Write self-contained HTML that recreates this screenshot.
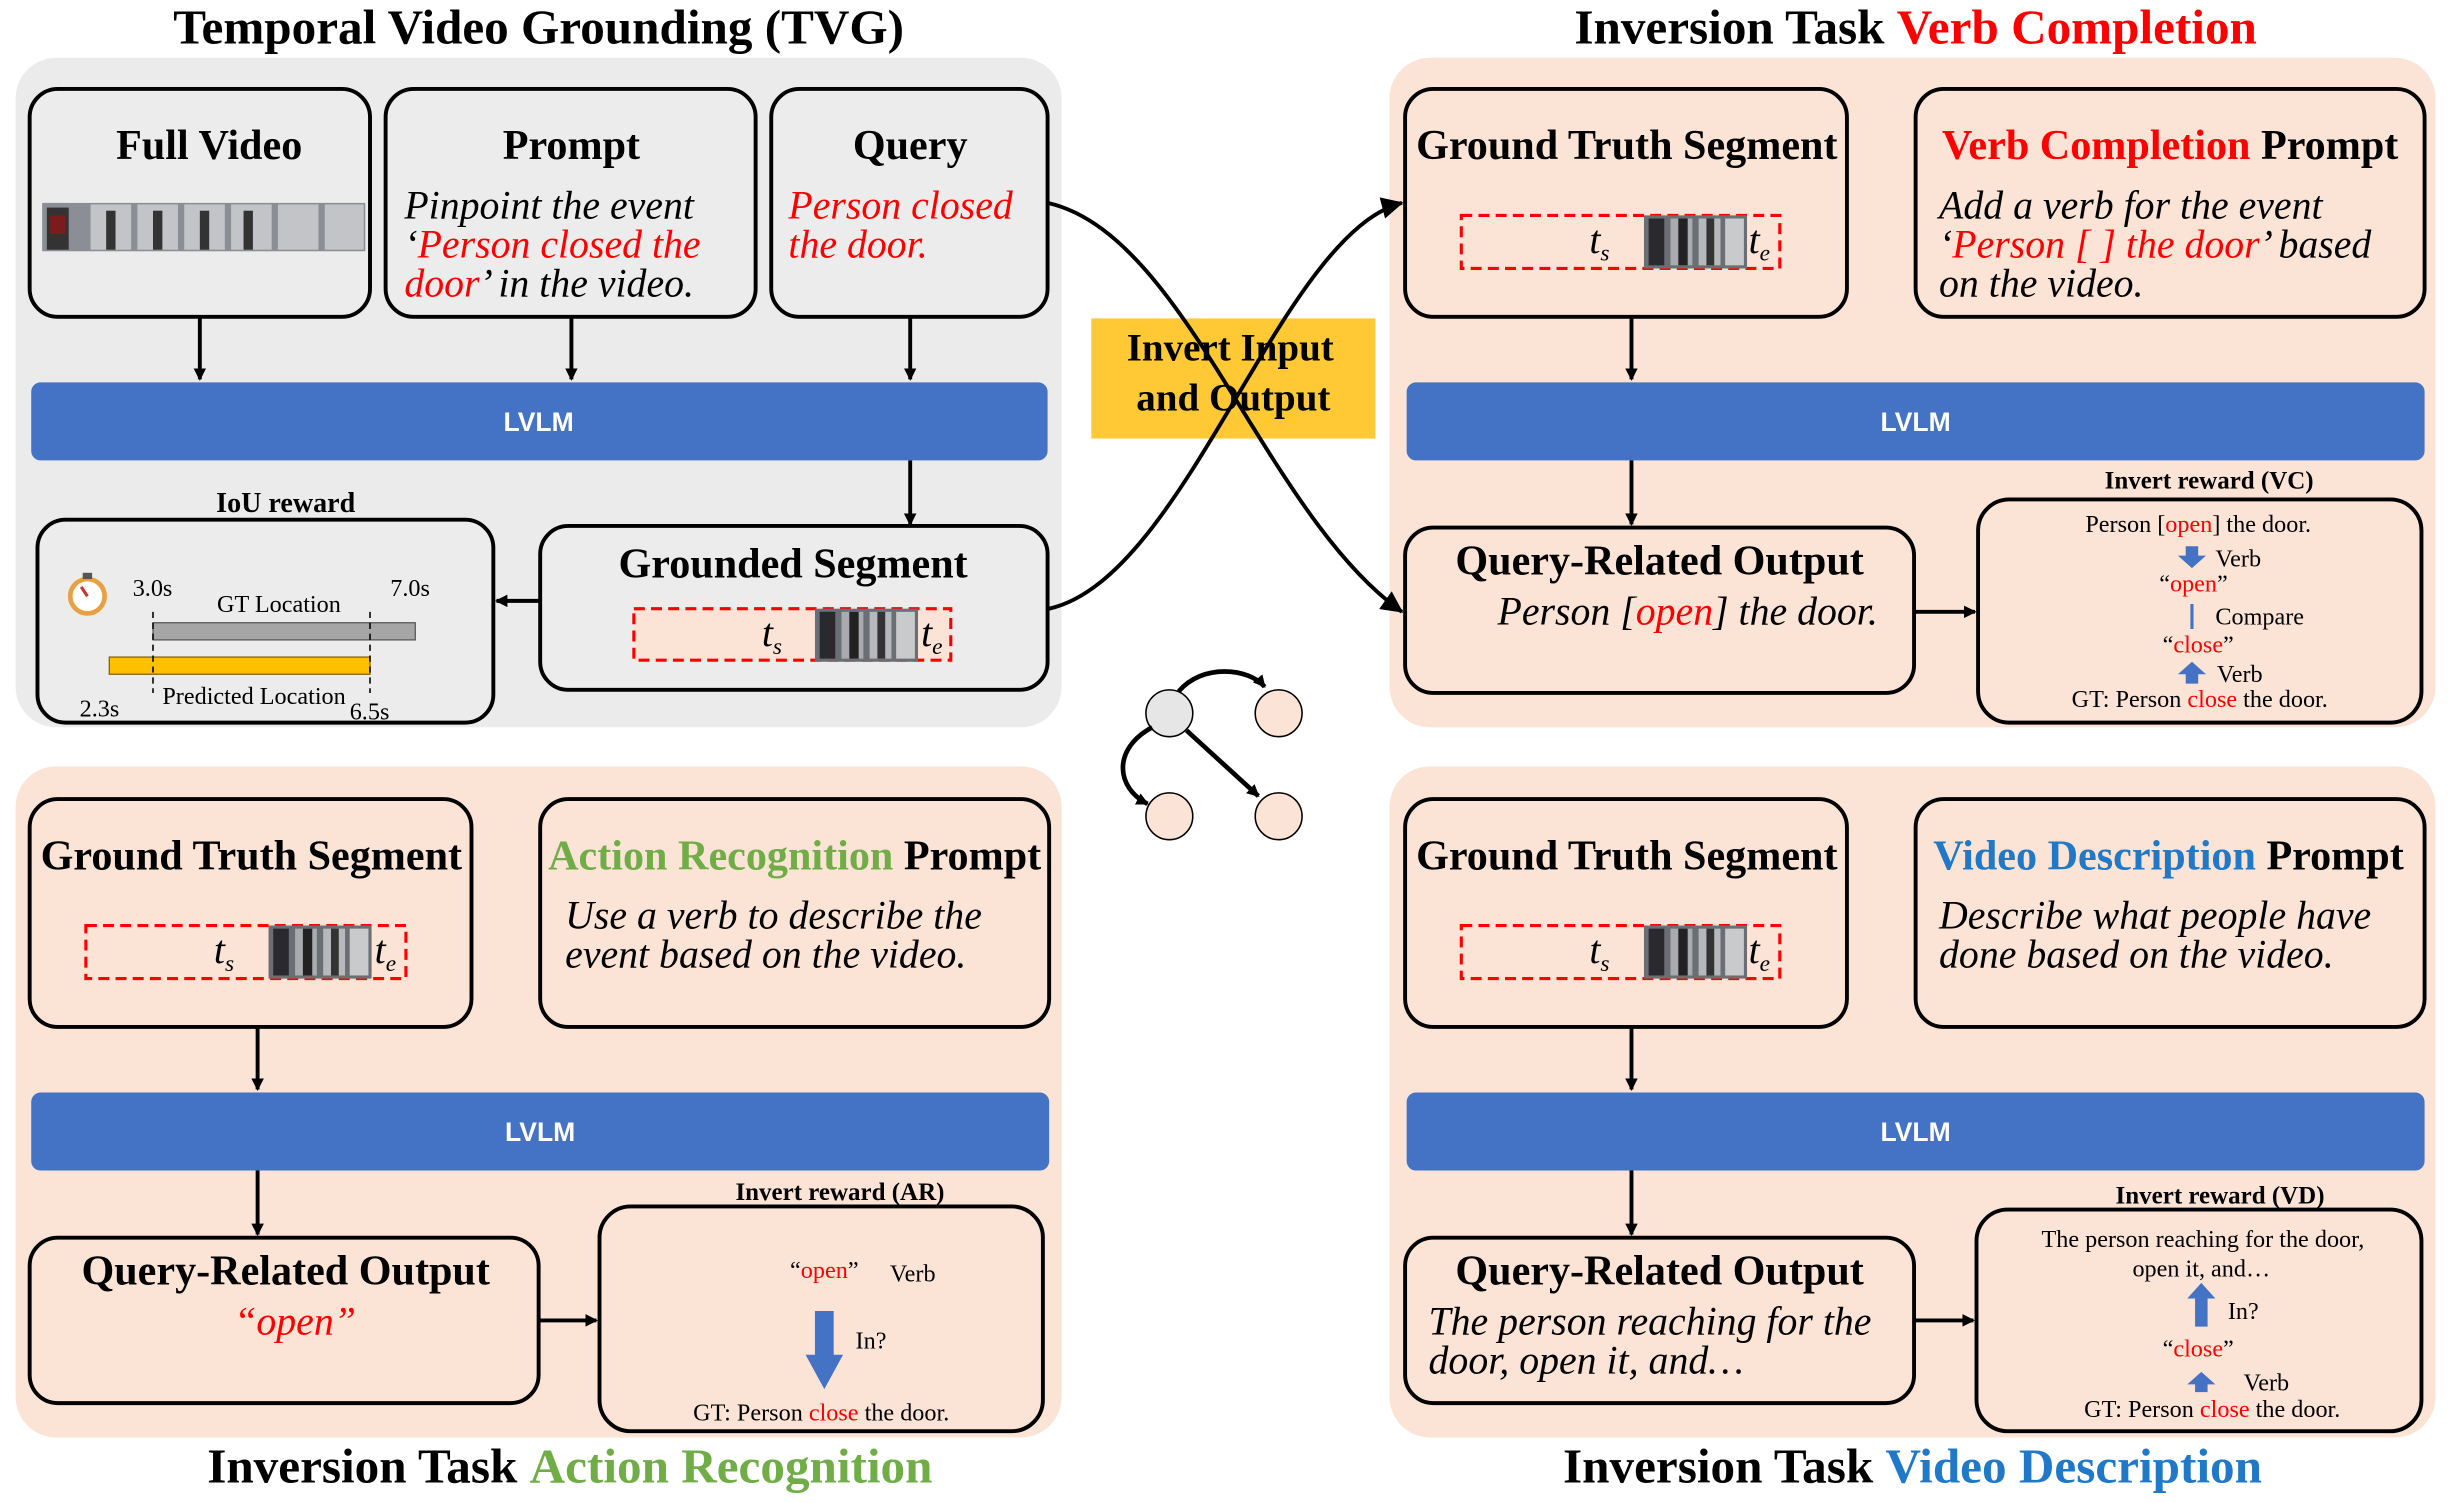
<!DOCTYPE html>
<html><head><meta charset="utf-8"><style>
html,body{margin:0;padding:0;background:#fff;}
svg{display:block;}
text{font-family:"Liberation Serif",serif;}
.t{font-size:31.5px;font-weight:bold;}
.h{font-size:27px;font-weight:bold;}
.i{font-size:25.5px;font-style:italic;}
.s{font-size:15.5px;}
.l{font-family:"Liberation Sans",sans-serif;font-size:17px;font-weight:bold;fill:#fff;}
.box{stroke:#000;stroke-width:2.5;}
.r{fill:#ff0000;}
</style></head><body>
<svg width="2448" height="1503" viewBox="0 0 1568 963" preserveAspectRatio="none" xmlns="http://www.w3.org/2000/svg">
<defs>
<marker id="a" markerWidth="8" markerHeight="8" refX="7" refY="4" orient="auto" markerUnits="userSpaceOnUse"><path d="M0,0 L8,4 L0,8 z" fill="#000"/></marker>
<marker id="A" markerWidth="14" markerHeight="14" refX="13" refY="7" orient="auto" markerUnits="userSpaceOnUse"><path d="M0,0 L14,7 L0,14 z" fill="#000"/></marker>
<g id="film"><rect x="0" y="0" width="66" height="34" fill="#6b6f75"/><rect x="3" y="2" width="10" height="30" fill="#2a2a2e"/><rect x="17" y="2" width="14" height="30" fill="#a9abae"/><rect x="22" y="2" width="6" height="30" fill="#222"/><rect x="35" y="2" width="14" height="30" fill="#b6b8bb"/><rect x="40" y="2" width="5" height="30" fill="#333"/><rect x="52" y="2" width="12" height="30" fill="#c8cacc"/></g>
</defs>

<rect x="10" y="37" width="670" height="429" rx="26" fill="#ebebeb"/>
<rect x="890" y="37" width="670" height="429" rx="26" fill="#fbe3d6"/>
<rect x="10" y="491" width="670" height="430" rx="26" fill="#fbe3d6"/>
<rect x="890" y="491" width="670" height="430" rx="26" fill="#fbe3d6"/>

<text class="t" x="345" y="28" text-anchor="middle">Temporal Video Grounding (TVG)</text>
<text class="t" x="1227" y="28" text-anchor="middle">Inversion Task <tspan class="r">Verb Completion</tspan></text>
<text class="t" x="365" y="950" text-anchor="middle">Inversion Task <tspan fill="#70ad47">Action Recognition</tspan></text>
<text class="t" x="1225" y="950" text-anchor="middle">Inversion Task <tspan fill="#1f78c8">Video Description</tspan></text>

<rect class="box" x="19" y="57" width="218" height="146" rx="18" fill="#ececec"/>
<text class="h" x="134" y="102" text-anchor="middle">Full Video</text>
<rect x="27" y="130" width="207" height="31" fill="#8b8f95"/>
<g fill="#c2c4c7"><rect x="58" y="131" width="26" height="29"/><rect x="88" y="131" width="26" height="29"/><rect x="118" y="131" width="26" height="29"/><rect x="148" y="131" width="26" height="29"/><rect x="178" y="131" width="26" height="29"/><rect x="208" y="131" width="25" height="29"/></g>
<g fill="#333"><rect x="30" y="133" width="14" height="27"/><rect x="68" y="135" width="6" height="25"/><rect x="98" y="135" width="6" height="25"/><rect x="128" y="135" width="6" height="25"/><rect x="156" y="135" width="6" height="25"/></g>
<rect x="32" y="138" width="10" height="12" fill="#7a1c1c"/>

<rect class="box" x="247" y="57" width="237" height="146" rx="18" fill="#ececec"/>
<text class="h" x="366" y="102" text-anchor="middle">Prompt</text>
<text class="i" x="259" y="140">Pinpoint the event</text>
<text class="i" x="259" y="165">‘<tspan class="r">Person closed the</tspan></text>
<text class="i" x="259" y="190"><tspan class="r">door</tspan>’ in the video.</text>

<rect class="box" x="494" y="57" width="177" height="146" rx="18" fill="#ececec"/>
<text class="h" x="583" y="102" text-anchor="middle">Query</text>
<text class="i r" x="505" y="140">Person closed</text>
<text class="i r" x="505" y="165">the door.</text>

<g stroke="#000" stroke-width="2.5" marker-end="url(#a)">
<line x1="128" y1="203" x2="128" y2="243"/><line x1="366" y1="203" x2="366" y2="243"/><line x1="583" y1="203" x2="583" y2="243"/>
<line x1="583" y1="295" x2="583" y2="336"/>
<line x1="346" y1="385" x2="318" y2="385"/>
</g>
<rect x="20" y="245" width="651" height="50" rx="6" fill="#4472c4"/>
<text class="l" x="345" y="276" text-anchor="middle">LVLM</text>

<rect class="box" x="346" y="337" width="325" height="105" rx="18" fill="#ececec"/>
<text class="h" x="508" y="370" text-anchor="middle">Grounded Segment</text>
<rect x="406" y="390" width="203" height="33" fill="#fbe3d6" stroke="#f00" stroke-width="2" stroke-dasharray="7,4"/>
<text class="i" x="488" y="414">t<tspan font-size="15" dy="5">s</tspan></text>
<use href="#film" x="522" y="390"/>
<text class="i" x="590" y="414">t<tspan font-size="15" dy="5">e</tspan></text>

<text x="183" y="328" text-anchor="middle" font-size="18" font-weight="bold">IoU reward</text>
<rect class="box" x="24" y="333" width="292" height="130" rx="18" fill="#ececec"/>
<circle cx="56" cy="382" r="11" fill="#fff" stroke="#e8a040" stroke-width="3"/><rect x="53" y="367" width="6" height="4" fill="#555"/><line x1="56" y1="382" x2="52" y2="376" stroke="#c33" stroke-width="2"/>
<text class="s" x="85" y="382">3.0s</text><text class="s" x="250" y="382">7.0s</text>
<text class="s" x="139" y="392">GT Location</text>
<rect x="98" y="399" width="168" height="11" fill="#a6a6a6" stroke="#555" stroke-width="0.8"/>
<rect x="70" y="421" width="167" height="11" fill="#ffc000" stroke="#806000" stroke-width="0.8"/>
<line x1="98" y1="392" x2="98" y2="444" stroke="#000" stroke-dasharray="4,3"/><line x1="237" y1="392" x2="237" y2="444" stroke="#000" stroke-dasharray="4,3"/>
<text class="s" x="104" y="451">Predicted Location</text>
<text class="s" x="51" y="459">2.3s</text><text class="s" x="224" y="461">6.5s</text>

<!-- center -->
<rect x="699" y="204" width="182" height="77" fill="#ffc935"/>
<path d="M671,130 C760,150 810,330 898,392" fill="none" stroke="#000" stroke-width="2.5" marker-end="url(#A)"/>
<path d="M672,390 C760,370 820,150 898,130" fill="none" stroke="#000" stroke-width="2.5" marker-end="url(#A)"/>
<text x="788" y="231" text-anchor="middle" font-size="25" font-weight="bold">Invert Input</text>
<text x="790" y="263" text-anchor="middle" font-size="25" font-weight="bold">and Output</text>

<g stroke="#000" stroke-width="1">
<circle cx="749" cy="457" r="15" fill="#e6e6e6"/><circle cx="819" cy="457" r="15" fill="#fbe3d6"/><circle cx="749" cy="523" r="15" fill="#fbe3d6"/><circle cx="819" cy="523" r="15" fill="#fbe3d6"/>
</g>
<path d="M755,443 C770,425 800,428 810,440" fill="none" stroke="#000" stroke-width="3" marker-end="url(#a)"/>
<path d="M738,466 C712,480 715,505 735,515" fill="none" stroke="#000" stroke-width="3" marker-end="url(#a)"/>
<line x1="760" y1="468" x2="806" y2="510" stroke="#000" stroke-width="3" marker-end="url(#a)"/>

<!-- VC panel -->
<rect class="box" x="900" y="57" width="283" height="146" rx="18" fill="#fbe3d6"/>
<text class="h" x="1042" y="102" text-anchor="middle">Ground Truth Segment</text>
<rect x="936" y="138" width="204" height="34" fill="#fbe3d6" stroke="#f00" stroke-width="2" stroke-dasharray="7,4"/>
<text class="i" x="1018" y="162">t<tspan font-size="15" dy="5">s</tspan></text>
<use href="#film" x="1053" y="138"/>
<text class="i" x="1120" y="162">t<tspan font-size="15" dy="5">e</tspan></text>

<rect class="box" x="1227" y="57" width="326" height="146" rx="18" fill="#fbe3d6"/>
<text class="h" x="1390" y="102" text-anchor="middle"><tspan class="r">Verb Completion</tspan> Prompt</text>
<text class="i" x="1242" y="140">Add a verb for the event</text>
<text class="i" x="1242" y="165">‘<tspan class="r">Person [ ] the door</tspan>’ based</text>
<text class="i" x="1242" y="190">on the video.</text>

<rect x="901" y="245" width="652" height="50" rx="6" fill="#4472c4"/>
<text class="l" x="1227" y="276" text-anchor="middle">LVLM</text>
<g stroke="#000" stroke-width="2.5" marker-end="url(#a)">
<line x1="1045" y1="203" x2="1045" y2="243"/><line x1="1045" y1="295" x2="1045" y2="336"/><line x1="1226" y1="392" x2="1265" y2="392"/>
</g>
<rect class="box" x="900" y="338" width="326" height="106" rx="18" fill="#fbe3d6"/>
<text class="h" x="1063" y="368" text-anchor="middle">Query-Related Output</text>
<text class="i" x="1081" y="400" text-anchor="middle">Person [<tspan class="r">open</tspan>] the door.</text>

<text x="1415" y="313" text-anchor="middle" font-size="16" font-weight="bold">Invert reward (VC)</text>
<rect class="box" x="1267" y="320" width="284" height="143" rx="20" fill="#fbe3d6"/>
<text class="s" x="1408" y="341" text-anchor="middle">Person [<tspan class="r">open</tspan>] the door.</text>
<path d="M1400,350 h8 v6 h5 l-9,8 l-9,-8 h5z" fill="#4472c4"/><text class="s" x="1419" y="363">Verb</text>
<text class="s" x="1405" y="379" text-anchor="middle">“<tspan class="r">open</tspan>”</text>
<line x1="1404" y1="387" x2="1404" y2="403" stroke="#4472c4" stroke-width="2"/><text class="s" x="1419" y="400">Compare</text>
<text class="s" x="1408" y="418" text-anchor="middle">“<tspan class="r">close</tspan>”</text>
<path d="M1400,438 h8 v-6 h5 l-9,-8 l-9,8 h5z" fill="#4472c4"/><text class="s" x="1420" y="437">Verb</text>
<text class="s" x="1409" y="453" text-anchor="middle">GT: Person <tspan class="r">close</tspan> the door.</text>

<!-- AR panel -->
<rect class="box" x="19" y="512" width="283" height="146" rx="18" fill="#fbe3d6"/>
<text class="h" x="161" y="557" text-anchor="middle">Ground Truth Segment</text>
<rect x="55" y="593" width="205" height="34" fill="#fbe3d6" stroke="#f00" stroke-width="2" stroke-dasharray="7,4"/>
<text class="i" x="137" y="617">t<tspan font-size="15" dy="5">s</tspan></text>
<use href="#film" x="172" y="593"/>
<text class="i" x="240" y="617">t<tspan font-size="15" dy="5">e</tspan></text>

<rect class="box" x="346" y="512" width="326" height="146" rx="18" fill="#fbe3d6"/>
<text class="h" x="509" y="557" text-anchor="middle"><tspan fill="#70ad47">Action Recognition</tspan> Prompt</text>
<text class="i" x="362" y="595">Use a verb to describe the</text>
<text class="i" x="362" y="620">event based on the video.</text>

<rect x="20" y="700" width="652" height="50" rx="6" fill="#4472c4"/>
<text class="l" x="346" y="731" text-anchor="middle">LVLM</text>
<g stroke="#000" stroke-width="2.5" marker-end="url(#a)">
<line x1="165" y1="658" x2="165" y2="698"/><line x1="165" y1="750" x2="165" y2="791"/><line x1="345" y1="846" x2="382" y2="846"/>
</g>
<rect class="box" x="19" y="793" width="326" height="106" rx="18" fill="#fbe3d6"/>
<text class="h" x="183" y="823" text-anchor="middle">Query-Related Output</text>
<text class="i r" x="189" y="855" text-anchor="middle">“open”</text>

<text x="538" y="769" text-anchor="middle" font-size="16" font-weight="bold">Invert reward (AR)</text>
<rect class="box" x="384" y="773" width="284" height="144" rx="20" fill="#fbe3d6"/>
<text class="s" x="528" y="819" text-anchor="middle">“<tspan class="r">open</tspan>”</text><text class="s" x="570" y="821">Verb</text>
<path d="M522,840 h12 v28 h6 l-12,22 l-12,-22 h6z" fill="#4472c4"/>
<text class="s" x="548" y="864">In?</text>
<text class="s" x="526" y="910" text-anchor="middle">GT: Person <tspan class="r">close</tspan> the door.</text>

<!-- VD panel -->
<rect class="box" x="900" y="512" width="283" height="146" rx="18" fill="#fbe3d6"/>
<text class="h" x="1042" y="557" text-anchor="middle">Ground Truth Segment</text>
<rect x="936" y="593" width="204" height="34" fill="#fbe3d6" stroke="#f00" stroke-width="2" stroke-dasharray="7,4"/>
<text class="i" x="1018" y="617">t<tspan font-size="15" dy="5">s</tspan></text>
<use href="#film" x="1053" y="593"/>
<text class="i" x="1120" y="617">t<tspan font-size="15" dy="5">e</tspan></text>

<rect class="box" x="1227" y="512" width="326" height="146" rx="18" fill="#fbe3d6"/>
<text class="h" x="1389" y="557" text-anchor="middle"><tspan fill="#1f78c8">Video Description</tspan> Prompt</text>
<text class="i" x="1242" y="595">Describe what people have</text>
<text class="i" x="1242" y="620">done based on the video.</text>

<rect x="901" y="700" width="652" height="50" rx="6" fill="#4472c4"/>
<text class="l" x="1227" y="731" text-anchor="middle">LVLM</text>
<g stroke="#000" stroke-width="2.5" marker-end="url(#a)">
<line x1="1045" y1="658" x2="1045" y2="698"/><line x1="1045" y1="750" x2="1045" y2="791"/><line x1="1226" y1="846" x2="1264" y2="846"/>
</g>
<rect class="box" x="900" y="793" width="326" height="106" rx="18" fill="#fbe3d6"/>
<text class="h" x="1063" y="823" text-anchor="middle">Query-Related Output</text>
<text class="i" x="915" y="855">The person reaching for the</text>
<text class="i" x="915" y="880">door, open it, and…</text>

<text x="1422" y="771" text-anchor="middle" font-size="16" font-weight="bold">Invert reward (VD)</text>
<rect class="box" x="1266" y="775" width="285" height="142" rx="20" fill="#fbe3d6"/>
<text class="s" x="1411" y="799" text-anchor="middle">The person reaching for the door,</text>
<text class="s" x="1410" y="818" text-anchor="middle">open it, and…</text>
<path d="M1406,850 h8 v-18 h5 l-9,-10 l-9,10 h5z" fill="#4472c4"/><text class="s" x="1427" y="845">In?</text>
<text class="s" x="1408" y="869" text-anchor="middle">“<tspan class="r">close</tspan>”</text>
<path d="M1406,892 h8 v-5 h5 l-9,-8 l-9,8 h5z" fill="#4472c4"/><text class="s" x="1437" y="891">Verb</text>
<text class="s" x="1417" y="908" text-anchor="middle">GT: Person <tspan class="r">close</tspan> the door.</text>
</svg>
</body></html>
